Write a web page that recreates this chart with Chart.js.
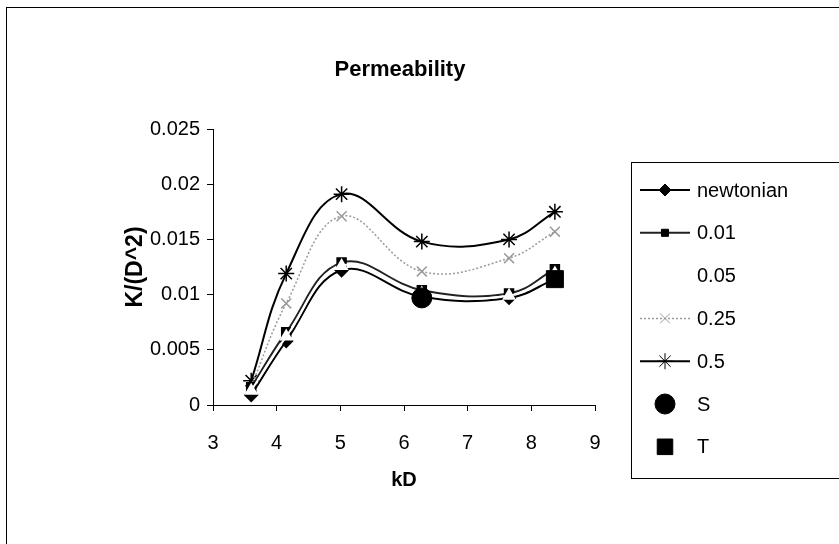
<!DOCTYPE html>
<html lang="en">
<head>
<meta charset="UTF-8">
<title>Permeability</title>
<script src="https://cdn.jsdelivr.net/npm/chart.js"></script>
<style>
    body { margin: 0; background: #fff; }
    #wrap { width: 839px; height: 544px; }
</style>
</head>
<body>
<div id="wrap"><canvas id="permChart" width="839" height="544"></canvas></div>

<script>
    // values
    var kD = [3.6, 4.15, 5.02, 6.28, 7.65, 8.37];
    var newtonian = [0.0009, 0.0058, 0.0122, 0.0098, 0.0097, 0.0114];
    var k001 = [0.0016, 0.0066, 0.0129, 0.0104, 0.0101, 0.0123];
    var k005 = [0.0013, 0.0062, 0.0126, 0.0101, 0.0099, 0.0119];
    var k025 = [0.0017, 0.0092, 0.0171, 0.0121, 0.0133, 0.0157];
    var k05 = [0.0022, 0.0119, 0.0191, 0.0148, 0.0150, 0.0175];
    var sX = [6.28], sY = [0.0097];
    var tX = [8.37], tY = [0.0114];

    var yTicks = ['0', '0.005', '0.01', '0.015', '0.02', '0.025'];
    var xTicks = ['3', '4', '5', '6', '7', '8', '9'];

    var FONT = "'Liberation Sans', Arial, sans-serif";

    function pts(xs, ys) {
        var out = [];
        for (var i = 0; i < xs.length; i++) out.push({x: xs[i], y: ys[i]});
        return out;
    }

    // chart frame, title and legend box drawn by hand (Excel style)
    var excelLegend = {
        id: 'excelLegend',
        afterDraw: function(chart) {
            var ctx = chart.ctx;
            ctx.save();
            ctx.strokeStyle = '#000';
            ctx.lineWidth = 1;
            ctx.strokeRect(6.5, 7.5, 900, 600);
            ctx.strokeRect(631.5, 162.5, 300, 316);

            ctx.fillStyle = '#000';
            ctx.font = 'bold 22px ' + FONT;
            ctx.textAlign = 'center';
            ctx.textBaseline = 'middle';
            ctx.fillText('Permeability', 400, 70);

            ctx.textAlign = 'left';
            var top = 190, step = 42.8;
            chart.data.datasets.forEach(function(ds, i) {
                var y = top + i * step;
                if (ds.showLine) {
                    ctx.save();
                    ctx.strokeStyle = ds.borderColor;
                    ctx.lineWidth = ds.borderWidth;
                    ctx.setLineDash(ds.borderDash || []);
                    ctx.beginPath();
                    ctx.moveTo(640, y);
                    ctx.lineTo(690, y);
                    ctx.stroke();
                    ctx.restore();
                }
                ctx.fillStyle = ds.pointBackgroundColor;
                ctx.strokeStyle = ds.pointBorderColor;
                Chart.helpers.drawPoint(ctx, {
                    pointStyle: ds.pointStyle,
                    radius: ds.legendRadius || ds.pointRadius,
                    borderWidth: ds.pointBorderWidth || 1,
                    rotation: 0
                }, 665, y);
                ctx.fillStyle = '#000';
                ctx.font = '20px ' + FONT;
                ctx.textBaseline = 'middle';
                ctx.fillText(ds.label, 697, y + 1);
            });
            ctx.restore();
        }
    };

    var ctx = document.getElementById('permChart').getContext('2d');

    var permChart = new Chart(ctx, {
        type: 'scatter',
        data: {
            datasets: [{
                label: 'newtonian',
                data: pts(kD, newtonian),
                showLine: true,
                borderColor: '#000',
                borderWidth: 2,
                pointStyle: 'rectRot',
                pointRadius: 6,
                pointBackgroundColor: '#000',
                pointBorderColor: '#000',
                tension: 0.4,
                order: 5
            }, {
                label: '0.01',
                data: pts(kD, k001),
                showLine: true,
                borderColor: '#222',
                borderWidth: 2,
                pointStyle: 'rect',
                pointRadius: 6,
                legendRadius: 5,
                pointBackgroundColor: '#000',
                pointBorderColor: '#000',
                tension: 0.4,
                order: 4
            }, {
                label: '0.05',
                data: pts(kD, k005),
                showLine: true,
                borderColor: '#fff',
                borderWidth: 2,
                pointStyle: 'triangle',
                pointRadius: 6,
                pointBackgroundColor: '#fff',
                pointBorderColor: '#fff',
                tension: 0.4,
                order: 3
            }, {
                label: '0.25',
                data: pts(kD, k025),
                showLine: true,
                borderColor: '#9a9a9a',
                borderWidth: 1.5,
                borderDash: [2, 2],
                pointStyle: 'crossRot',
                pointRadius: 7,
                pointBackgroundColor: '#9a9a9a',
                pointBorderColor: '#9a9a9a',
                tension: 0.4,
                order: 6
            }, {
                label: '0.5',
                data: pts(kD, k05),
                showLine: true,
                borderColor: '#000',
                borderWidth: 2,
                pointStyle: 'star',
                pointRadius: 8,
                pointBorderWidth: 1.5,
                pointBackgroundColor: '#000',
                pointBorderColor: '#000',
                tension: 0.4,
                order: 7
            }, {
                label: 'S',
                data: pts(sX, sY),
                showLine: false,
                pointStyle: 'circle',
                pointRadius: 10,
                pointBackgroundColor: '#000',
                pointBorderColor: '#000',
                order: 1
            }, {
                label: 'T',
                data: pts(tX, tY),
                showLine: false,
                pointStyle: 'rect',
                pointRadius: 12,
                legendRadius: 11,
                pointBackgroundColor: '#000',
                pointBorderColor: '#000',
                order: 2
            }]
        },
        options: {
            responsive: false,
            animation: false,
            layout: { padding: { left: 0, right: 244, top: 129, bottom: 0 } },
            plugins: {
                legend: { display: false },
                tooltip: { enabled: false },
                title: { display: false }
            },
            scales: {
                x: {
                    type: 'linear',
                    min: 3,
                    max: 9,
                    afterFit: function(s) { s.height = 139; },
                    ticks: {
                        stepSize: 1,
                        color: '#000',
                        padding: 20,
                        font: { family: FONT, size: 20 },
                        callback: function(v) { return xTicks[v - 3]; }
                    },
                    grid: { drawOnChartArea: false, tickLength: 6, color: '#000' },
                    border: { color: '#000' },
                    title: {
                        display: true,
                        text: 'kD',
                        color: '#000',
                        font: { family: FONT, size: 20, weight: 'bold' },
                        padding: { top: 9, bottom: 52 }
                    }
                },
                y: {
                    type: 'linear',
                    min: 0,
                    max: 0.025,
                    afterFit: function(s) { s.width = 213; },
                    ticks: {
                        stepSize: 0.005,
                        color: '#000',
                        padding: 7,
                        font: { family: FONT, size: 20 },
                        callback: function(v) { return yTicks[Math.round(v / 0.005)]; }
                    },
                    grid: { drawOnChartArea: false, tickLength: 6, color: '#000' },
                    border: { color: '#000' },
                    title: {
                        display: true,
                        text: 'K/(D^2)',
                        color: '#000',
                        font: { family: FONT, size: 23, weight: 'bold' },
                        padding: { top: 122, bottom: 0 }
                    }
                }
            }
        },
        plugins: [excelLegend]
    });
</script>
</body>
</html>
